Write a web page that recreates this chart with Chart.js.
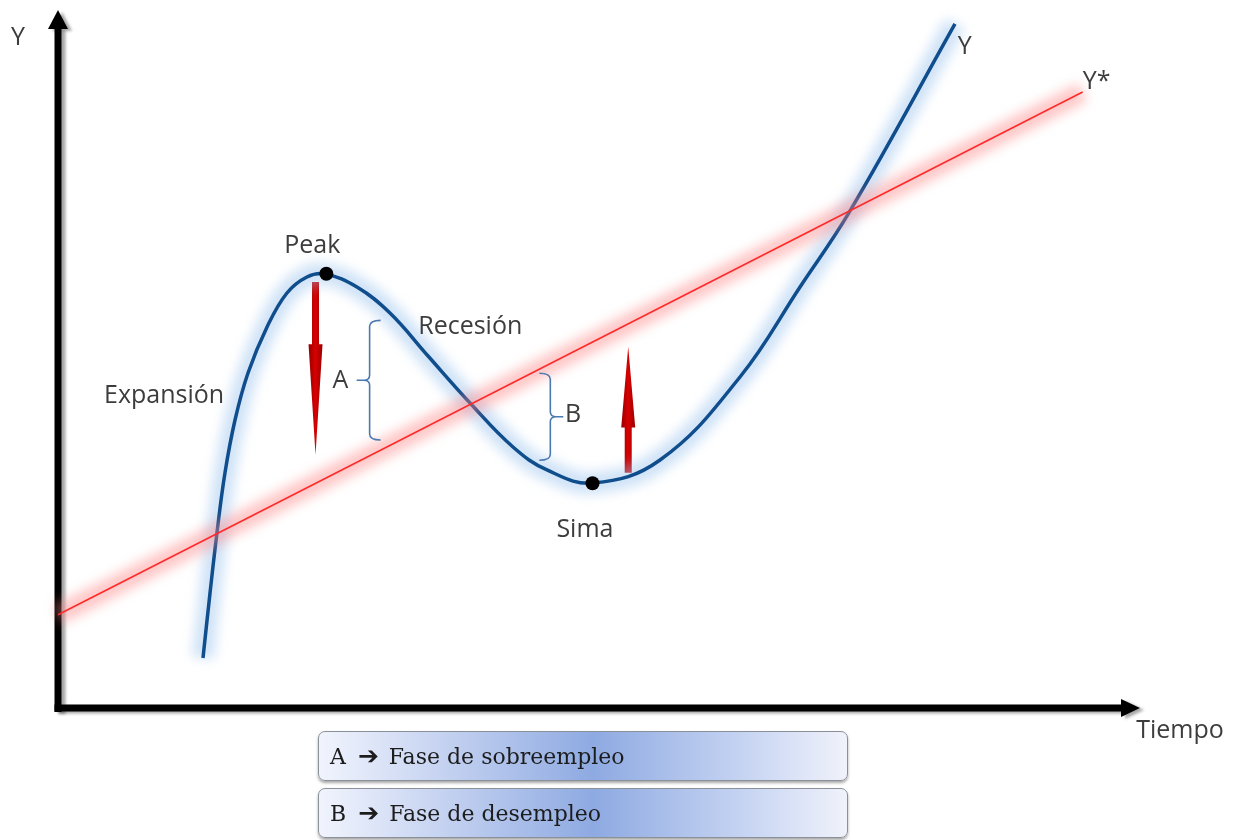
<!DOCTYPE html>
<html>
<head>
<meta charset="utf-8">
<script src="https://cdn.jsdelivr.net/npm/chart.js@4.4.0/dist/chart.umd.min.js"></script>
<style>
  html, body { margin: 0; padding: 0; background: #fff; }
  #wrap { position: relative; width: 1238px; height: 840px; overflow: hidden; }
  .fase {
    position: absolute; left: 318px; width: 530px; height: 50px;
    box-sizing: border-box; border: 1px solid #8c9099; border-radius: 7px;
    background: linear-gradient(90deg, #f1f4fd 0%, #c2d0f0 25%, #8eaae2 52%, #c5d3f2 80%, #f0f2fb 100%);
    box-shadow: 0 2px 3px rgba(0, 0, 0, 0.35);
    font-family: 'DejaVu Serif', serif; font-size: 22px; color: #1c1c1c;
    line-height: 48px; padding-left: 11px; white-space: nowrap;
  }
  .fase b { font-family: 'DejaVu Sans', sans-serif; font-size: 25px; margin: 0 10px 0 12px; }
</style>
</head>
<body>
<div id="wrap">
  <canvas id="cycle"></canvas>
</div>
<script>
// ciclo economico: producto Y frente a producto potencial Y*
const curveX = [13.40, 14.05, 14.69, 15.43, 16.36, 17.56, 19.32, 21.16, 23.01, 24.68, 27.63, 30.68,
  34.20, 38.08, 42.05, 45.19, 49.45, 55.64, 63.03, 68.58, 73.20, 82.90];
const curveY = [7.18, 16.52, 25.14, 33.76, 41.38, 48.13, 54.74, 59.63, 61.93, 62.36, 60.49, 56.75,
  50.57, 43.82, 37.50, 34.20, 32.33, 35.63, 47.56, 60.49, 71.41, 98.28];
const trendX = [0, 94.7];
const trendY = [13.4, 88.5];
const turnX = [24.8, 49.4];
const turnY = [62.4, 32.3];

const arrowX = [23.8, 52.7];
const arrowFrom = [61.2, 33.8];
const arrowTo = [36.4, 51.9];

const braceX = [28.8, 45.5];
const braceTop = [55.7, 48.1];
const braceBottom = [38.5, 35.6];
const braceSide = [1, -1];

const labelText = ['Peak', 'Sima', 'Recesión', 'Expansión', 'A', 'B', 'Y', 'Y', 'Y*', 'Tiempo'];
const labelX = [23.5, 48.7, 38.1, 9.8, 26.1, 47.6, -3.7, 83.8, 96.0, 103.7];
const labelY = [66.4, 25.6, 54.7, 44.8, 47.0, 42.1, 96.3, 95.0, 89.9, -3.3];

const phaseKeys = ['A', 'B'];
const phaseNames = ['Fase de sobreempleo', 'Fase de desempleo'];

const wrap = document.getElementById('wrap');
phaseKeys.forEach((key, i) => {
  const box = document.createElement('div');
  box.className = 'fase';
  box.style.top = `${731 + i * 57}px`;
  box.innerHTML = `${key}<b>&#x2794;</b>${phaseNames[i]}`;
  wrap.appendChild(box);
});

function drawArrow(ctx, x, y0, y1) {
  const len = y1 - y0;
  const headStart = y0 + len * 0.36;
  const grad = ctx.createLinearGradient(x - 7, 0, x + 7, 0);
  grad.addColorStop(0, '#9a0000');
  grad.addColorStop(0.5, '#d80000');
  grad.addColorStop(1, '#9a0000');
  ctx.fillStyle = grad;
  ctx.beginPath();
  ctx.moveTo(x - 3.5, y0);
  ctx.lineTo(x + 3.5, y0);
  ctx.lineTo(x + 3.5, headStart);
  ctx.lineTo(x + 7, headStart);
  ctx.lineTo(x, y1);
  ctx.lineTo(x - 7, headStart);
  ctx.lineTo(x - 3.5, headStart);
  ctx.closePath();
  ctx.fill();
}

function drawBrace(ctx, x, top, bottom, d) {
  const mid = (top + bottom) / 2;
  ctx.beginPath();
  ctx.moveTo(x + d * 11, top);
  ctx.quadraticCurveTo(x, top, x, top + 6);
  ctx.lineTo(x, mid - 5);
  ctx.quadraticCurveTo(x, mid, x - d * 6, mid);
  ctx.lineTo(x - d * 13, mid);
  ctx.moveTo(x - d * 6, mid);
  ctx.quadraticCurveTo(x, mid, x, mid + 5);
  ctx.lineTo(x, bottom - 6);
  ctx.quadraticCurveTo(x, bottom, x + d * 11, bottom);
  ctx.stroke();
}

const scenePlugin = {
  id: 'scene',
  beforeDatasetsDraw(chart) {
    const { ctx, scales: { x, y } } = chart;
    const x0 = x.getPixelForValue(0);
    const y0 = y.getPixelForValue(0);
    const xEnd = x.getPixelForValue(100);
    const yEnd = y.getPixelForValue(100);
    ctx.save();
    ctx.shadowColor = 'rgba(0, 0, 0, 0.35)';
    ctx.shadowOffsetX = 4;
    ctx.shadowOffsetY = 2;
    ctx.shadowBlur = 3;
    ctx.fillStyle = '#000';
    // eje vertical
    ctx.fillRect(x0 - 3.5, yEnd + 16, 7, y0 - yEnd - 12);
    ctx.beginPath();
    ctx.moveTo(x0, yEnd - 2);
    ctx.lineTo(x0 + 10, yEnd + 17);
    ctx.lineTo(x0 - 10, yEnd + 17);
    ctx.closePath();
    ctx.fill();
    // eje horizontal
    ctx.fillRect(x0 - 3.5, y0 - 3.5, xEnd - x0 - 14, 7);
    ctx.beginPath();
    ctx.moveTo(xEnd, y0);
    ctx.lineTo(xEnd - 19, y0 - 9);
    ctx.lineTo(xEnd - 19, y0 + 9);
    ctx.closePath();
    ctx.fill();
    ctx.restore();

    ctx.save();
    arrowX.forEach((ax, i) => {
      drawArrow(ctx, x.getPixelForValue(ax), y.getPixelForValue(arrowFrom[i]), y.getPixelForValue(arrowTo[i]));
    });
    ctx.restore();
  },
  beforeDatasetDraw(chart, args) {
    if (!chart.data.datasets[args.index].glow) return;
    chart.ctx.save();
    chart.ctx.filter = 'blur(6px)';
  },
  afterDatasetDraw(chart, args) {
    if (chart.data.datasets[args.index].glow) chart.ctx.restore();
  },
  afterDatasetsDraw(chart) {
    const { ctx, scales: { x, y } } = chart;
    ctx.save();
    ctx.strokeStyle = '#4b79b1';
    ctx.lineWidth = 1.6;
    braceX.forEach((bx, i) => {
      drawBrace(ctx, x.getPixelForValue(bx), y.getPixelForValue(braceTop[i]),
        y.getPixelForValue(braceBottom[i]), braceSide[i]);
    });
    ctx.fillStyle = '#3d3d3d';
    ctx.font = '25px "Open Sans"';
    ctx.textAlign = 'center';
    ctx.textBaseline = 'middle';
    labelText.forEach((t, i) => {
      ctx.fillText(t, x.getPixelForValue(labelX[i]), y.getPixelForValue(labelY[i]));
    });
    ctx.restore();
  },
};

const curve = curveX.map((v, i) => ({ x: v, y: curveY[i] }));
const trend = trendX.map((v, i) => ({ x: v, y: trendY[i] }));
const turns = turnX.map((v, i) => ({ x: v, y: turnY[i] }));

new Chart(document.getElementById('cycle'), {
  type: 'line',
  data: {
    datasets: [
      { data: turns, showLine: false, pointRadius: 7, pointBackgroundColor: '#000', pointBorderWidth: 0, order: 0 },
      { data: trend, borderColor: '#ff2a2a', borderWidth: 1.6, pointRadius: 0, order: 1, clip: false },
      { data: trend, borderColor: 'rgba(255, 130, 130, 0.45)', borderWidth: 20, pointRadius: 0, order: 2, clip: false, glow: true },
      { data: curve, borderColor: '#0f4d8c', borderWidth: 3.5, pointRadius: 0, tension: 0.4, order: 3, clip: false },
      { data: curve, borderColor: 'rgba(150, 192, 238, 0.45)', borderWidth: 22, pointRadius: 0, tension: 0.4, order: 4, clip: false, glow: true },
    ],
  },
  options: {
    responsive: true,
    maintainAspectRatio: false,
    animation: false,
    events: [],
    layout: { padding: { left: 58, right: 98, top: 12, bottom: 132 } },
    plugins: { legend: { display: false }, tooltip: { enabled: false } },
    scales: {
      x: { type: 'linear', display: false, min: 0, max: 100 },
      y: { type: 'linear', display: false, min: 0, max: 100 },
    },
  },
  plugins: [scenePlugin],
});
</script>
</body>
</html>
